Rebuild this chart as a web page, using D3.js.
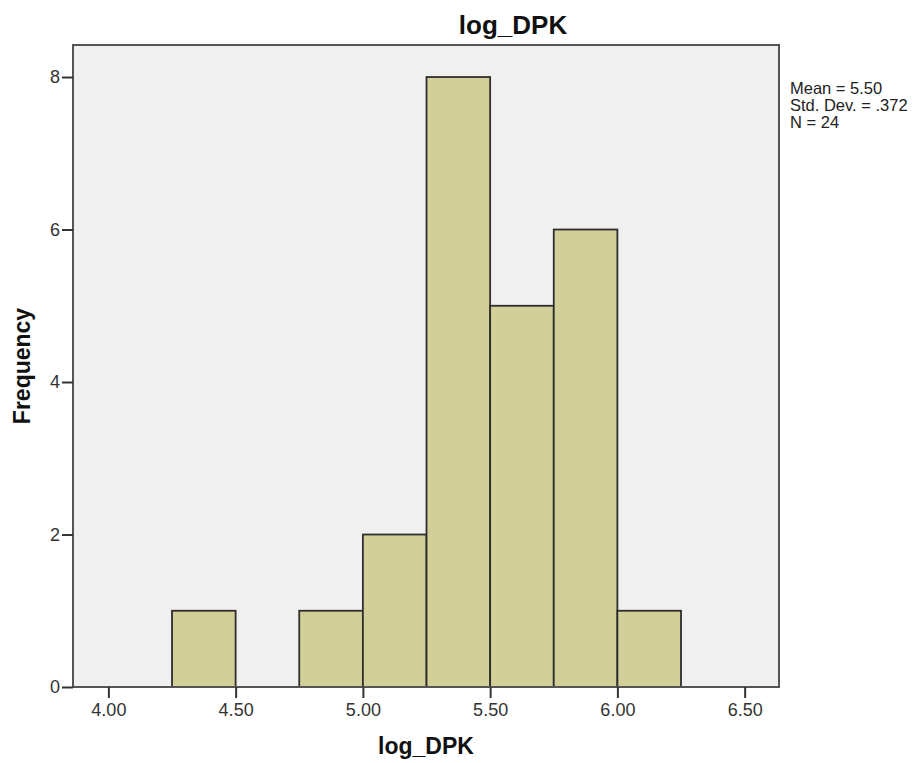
<!DOCTYPE html>
<html><head><meta charset="utf-8">
<script src="https://cdn.jsdelivr.net/npm/d3@7"></script>
<style>body{margin:0;background:#fff;} svg{display:block;font-family:"Liberation Sans",Arial,sans-serif;}</style>
</head><body>
<script>
const binStarts = [4.25, 4.75, 5.00, 5.25, 5.50, 5.75, 6.00];
const binWidth = 0.25;
const frequencies = [1, 1, 2, 8, 5, 6, 1];
const xTicks = [4.00, 4.50, 5.00, 5.50, 6.00, 6.50];
const yTicks = [0, 2, 4, 6, 8];
const statsLines = ["Mean = 5.50", "Std. Dev. = .372", "N = 24"];
const title = "log_DPK";
const xLabel = "log_DPK";
const yLabel = "Frequency";

const W = 923, H = 763;
const m = {left: 73, right: 144, top: 45, bottom: 76};
const svg = d3.select("body").append("svg").attr("width", W).attr("height", H);
const x = d3.scaleLinear().domain([3.861, 6.635]).range([m.left, W - m.right]);
const y = d3.scaleLinear().domain([0, 8.42]).range([H - m.bottom, m.top]);

svg.append("rect").attr("x", m.left).attr("y", m.top)
  .attr("width", W - m.left - m.right).attr("height", H - m.top - m.bottom)
  .attr("fill", "#f0f0f0");

svg.selectAll("rect.bar").data(binStarts).join("rect").attr("class", "bar")
  .attr("x", d => x(d)).attr("width", d => x(d + binWidth) - x(d))
  .attr("y", (d, i) => y(frequencies[i]))
  .attr("height", (d, i) => y(0) - y(frequencies[i]))
  .attr("fill", "#d3cf98").attr("stroke", "#2e2e2e").attr("stroke-width", 1.8);

svg.append("rect").attr("x", m.left).attr("y", m.top)
  .attr("width", W - m.left - m.right).attr("height", H - m.top - m.bottom)
  .attr("fill", "none").attr("stroke", "#555").attr("stroke-width", 2);

const xAxis = svg.append("g").attr("transform", `translate(0,${H - m.bottom})`)
  .call(d3.axisBottom(x).tickValues(xTicks).tickFormat(d3.format(".2f")).tickSize(11).tickPadding(5));
const yAxis = svg.append("g").attr("transform", `translate(${m.left},0)`)
  .call(d3.axisLeft(y).tickValues(yTicks).tickFormat(d3.format("d")).tickSize(11).tickPadding(2));
[xAxis, yAxis].forEach(a => {
  a.select(".domain").remove();
  a.selectAll("line").attr("stroke", "#333").attr("stroke-width", 2);
  a.selectAll("text").attr("fill", "#333").style("font-size", "18px")
    .style("font-family", '"Liberation Sans",Arial,sans-serif');
});

svg.append("text").attr("x", 513).attr("y", 34).attr("text-anchor", "middle")
  .style("font-size", "26px").style("font-weight", "bold").attr("fill", "#111").text(title);
svg.append("text").attr("x", (m.left + W - m.right) / 2).attr("y", 754).attr("text-anchor", "middle")
  .style("font-size", "23px").style("font-weight", "bold").attr("fill", "#111").text(xLabel);
svg.append("text").attr("transform", `translate(30,${(m.top + H - m.bottom) / 2}) rotate(-90)`)
  .attr("text-anchor", "middle").style("font-size", "23px").style("font-weight", "bold")
  .attr("fill", "#111").text(yLabel);

svg.append("g").selectAll("text").data(statsLines).join("text")
  .attr("x", 790).attr("y", (d, i) => 94 + i * 17)
  .style("font-size", "16.5px").attr("fill", "#222").text(d => d);
</script>
</body></html>
